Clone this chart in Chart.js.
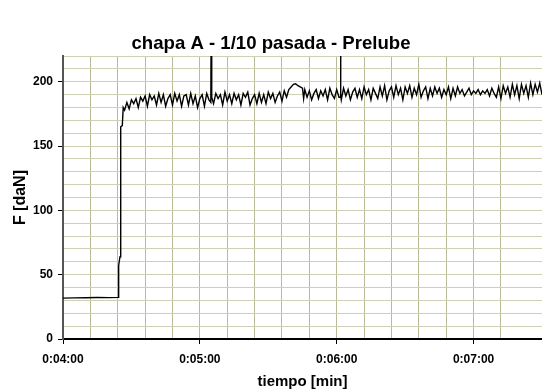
<!DOCTYPE html>
<html>
<head>
<meta charset="utf-8">
<script src="https://cdn.jsdelivr.net/npm/chart.js@4.4.1/dist/chart.umd.min.js"></script>
<style>
  html, body { margin: 0; padding: 0; background: #fff; }
  .chart-container { width: 542px; height: 391px; position: relative; }
</style>
</head>
<body>
<div class="chart-container">
  <canvas id="pasadaChart" width="542" height="391"></canvas>
</div>
<script>
// tiempo in seconds (0:04:00 = 240 s), fuerza in daN
const tiempo = [
  240, 245, 250, 255, 260, 264.2, 264.4, 264.8, 265.0, 265.3, 266.0, 266.4,
  267, 268, 269, 270, 271, 272, 273, 274, 275, 276,
  277, 278, 279, 280, 281, 282, 283, 284, 285, 286,
  287, 288, 289, 290, 291, 292, 293, 294, 295, 296,
  297, 298, 299, 300, 301, 302, 303, 304, 304.8, 305, 305.2,
  306, 307, 308, 309, 310, 311, 312, 313, 314, 315,
  316, 317, 318, 319, 320, 321, 322, 323, 324, 325,
  326, 327, 328, 329, 330, 331, 332, 333, 334, 335,
  336, 337, 338, 339, 340, 341, 342, 343, 344, 345, 345.5,
  346, 347, 348, 349, 350, 351, 352, 353, 354, 355,
  356, 357, 358, 359, 360, 361, 361.6, 361.7, 361.8,
  362, 363, 364, 365, 366, 367, 368, 369, 370, 371,
  372, 373, 374, 375, 376, 377, 378, 379, 380, 381,
  382, 383, 384, 385, 386, 387, 388, 389, 390, 391,
  392, 393, 394, 395, 396, 397, 398, 399, 400, 401,
  402, 403, 404, 405, 406, 407, 408, 409, 410, 411,
  412, 413, 414, 415, 416, 417, 418, 419, 420, 421,
  422, 423, 424, 425, 426, 427, 428, 429, 430, 431,
  432, 433, 434, 435, 436, 437, 438, 439, 440, 441,
  442, 443, 444, 445, 446, 447, 448, 449, 450
];
const fuerza = [
  31.8, 32.0, 32.1, 32.3, 32.2, 32.4, 57, 62, 64, 165, 166, 180,
  178, 184, 179, 186, 183, 187, 180, 188, 185, 189,
  181, 190, 186, 189, 182, 191, 184, 190, 181, 187,
  190, 182, 191, 185, 190, 181, 189, 190, 182, 191,
  183, 189, 180, 187, 190, 181, 191, 186, 184, 260, 188,
  183, 191, 187, 190, 182, 192, 185, 190, 183, 191,
  186, 190, 182, 191, 188, 192, 182, 187, 190, 183,
  191, 184, 190, 183, 192, 187, 191, 184, 189, 192,
  185, 193, 188, 194, 196, 198, 198.5, 197, 196, 195, 187,
  194, 188, 193, 186, 191, 194, 187, 193, 189, 194,
  186, 195, 190, 187, 194, 188, 188, 260, 190,
  186, 195, 189, 194, 186, 192, 195, 188, 194, 187,
  196, 190, 194, 186, 195, 191, 187, 196, 189, 197,
  186, 193, 196, 188, 197, 190, 195, 186, 196, 191,
  197, 188, 195, 190, 198, 188, 193, 196, 187, 195,
  189, 196, 191, 195, 188, 194, 190, 196, 187, 195,
  189, 196, 191, 194, 189, 192, 195, 190, 193, 191,
  194, 190, 193, 191, 194, 189, 195, 191, 188, 196,
  187, 197, 191, 196, 188, 198, 190, 197, 187, 198,
  191, 197, 188, 199, 190, 198, 192, 199, 190
];
const yLabelStep = 50;   // labelled y ticks
const xLabelStep = 60;   // labelled x ticks (one minute)

const fontFamily = '"Liberation Sans", Arial, sans-serif';

function formatTime(v) {
  const h = Math.floor(v / 3600);
  const m = Math.floor((v % 3600) / 60);
  const s = Math.round(v % 60);
  return h + ':' + String(m).padStart(2, '0') + ':' + String(s).padStart(2, '0');
}

const points = tiempo.map((t, i) => ({ x: t, y: fuerza[i] }));

const ctx = document.getElementById('pasadaChart').getContext('2d');
new Chart(ctx, {
  type: 'line',
  data: {
    datasets: [{
      label: 'F',
      data: points,
      borderColor: '#000',
      borderWidth: 1.4,
      pointRadius: 0,
      tension: 0
    }]
  },
  options: {
    responsive: false,
    animation: false,
    layout: { padding: { left: 0, right: 0, top: 0, bottom: 0 } },
    plugins: {
      legend: { display: false },
      tooltip: { enabled: false },
      title: {
        display: true,
        text: 'chapa A - 1/10 pasada - Prelube',
        color: '#000',
        font: { family: fontFamily, size: 18.6, weight: 'bold', lineHeight: 1 },
        padding: { top: 34.5, bottom: 3 }
      }
    },
    scales: {
      x: {
        type: 'linear',
        min: 240,
        max: 450,
        afterFit: (scale) => {
          scale.height = 52;
          scale.paddingRight = 0;
        },
        border: { color: '#000', width: 2 },
        grid: {
          color: (c) => (c.tick && c.tick.value === 450 ? 'transparent' : '#b9b994'),
          lineWidth: 1,
          tickLength: 5,
          tickColor: (c) => (c.tick && c.tick.value % xLabelStep === 0 ? '#000' : 'transparent')
        },
        ticks: {
          stepSize: 12,
          autoSkip: false,
          maxRotation: 0,
          padding: 8,
          color: '#000',
          font: { family: fontFamily, size: 12, weight: 'bold' },
          callback: (v) => (v % xLabelStep === 0 ? formatTime(v) : '')
        },
        title: {
          display: true,
          text: 'tiempo [min]',
          color: '#000',
          font: { family: fontFamily, size: 15, weight: 'bold' },
          padding: { top: 4, bottom: 0 }
        }
      },
      y: {
        min: 0,
        max: 220,
        afterFit: (scale) => { scale.width = 63; },
        border: { color: '#555', width: 2 },
        grid: {
          color: '#cfcfb4',
          lineWidth: 1,
          tickLength: 5,
          tickColor: (c) => (c.tick && c.tick.value % yLabelStep === 0 ? '#000' : 'transparent')
        },
        ticks: {
          stepSize: 10,
          autoSkip: false,
          padding: 5,
          color: '#000',
          font: { family: fontFamily, size: 12, weight: 'bold' },
          callback: (v) => (v % yLabelStep === 0 ? v : '')
        },
        title: {
          display: true,
          text: 'F [daN]',
          color: '#000',
          font: { family: fontFamily, size: 16, weight: 'bold' },
          padding: { top: 11, bottom: 0 }
        }
      }
    }
  }
});
</script>
</body>
</html>
